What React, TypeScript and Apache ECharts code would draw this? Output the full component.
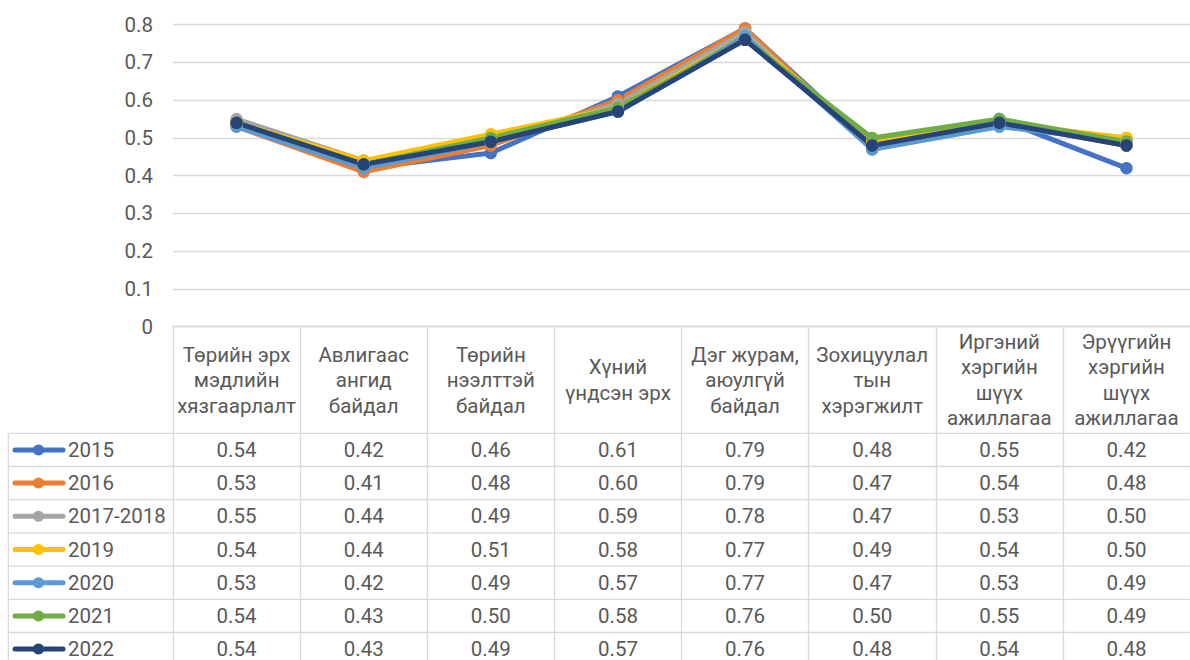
import React, { useEffect, useRef } from "react";
import * as echarts from "echarts";

const categories = [
  "Төрийн эрх\nмэдлийн\nхязгаарлалт",
  "Авлигаас\nангид\nбайдал",
  "Төрийн\nнээлттэй\nбайдал",
  "Хүний\nүндсэн эрх",
  "Дэг журам,\nаюулгүй\nбайдал",
  "Зохицуулал\nтын\nхэрэгжилт",
  "Иргэний\nхэргийн\nшүүх\nажиллагаа",
  "Эрүүгийн\nхэргийн\nшүүх\nажиллагаа",
];

const seriesNames = ["2015", "2016", "2017-2018", "2019", "2020", "2021", "2022"];
const v2015 = [0.54, 0.42, 0.46, 0.61, 0.79, 0.48, 0.55, 0.42];
const v2016 = [0.53, 0.41, 0.48, 0.6, 0.79, 0.47, 0.54, 0.48];
const v2017 = [0.55, 0.44, 0.49, 0.59, 0.78, 0.47, 0.53, 0.5];
const v2019 = [0.54, 0.44, 0.51, 0.58, 0.77, 0.49, 0.54, 0.5];
const v2020 = [0.53, 0.42, 0.49, 0.57, 0.77, 0.47, 0.53, 0.49];
const v2021 = [0.54, 0.43, 0.5, 0.58, 0.76, 0.5, 0.55, 0.49];
const v2022 = [0.54, 0.43, 0.49, 0.57, 0.76, 0.48, 0.54, 0.48];
const seriesValues = [v2015, v2016, v2017, v2019, v2020, v2021, v2022];
const colors = ["#4472C4", "#ED7D31", "#A5A5A5", "#FFC000", "#5B9BD5", "#70AD47", "#264478"];

const FONT = "Roboto";
const TXT = "#595959";
const LINE = "#d9d9d9";
const FS = 20.5;

export default function App() {
  const ref = useRef<HTMLDivElement>(null);
  useEffect(() => {
    if (!ref.current) return;
    const chart = echarts.init(ref.current, undefined, { renderer: "svg" });
    const W = 1190;
    const H = 660;
    const gridTop = 24.7;
    const gridBottomY = 326.7;
    const headerBottom = 433.3;
    const rowH = 33.2;

    chart.setOption({
      animation: false,
      grid: { left: 173, top: gridTop, width: 1030, height: gridBottomY - gridTop },
      xAxis: {
        type: "category",
        data: categories,
        boundaryGap: true,
        axisLine: { show: true, lineStyle: { color: LINE, width: 1.3 } },
        axisTick: { show: true, length: H - gridBottomY, lineStyle: { color: LINE, width: 1.3 } },
        axisLabel: {
          interval: 0,
          fontFamily: FONT,
          fontSize: FS,
          lineHeight: 25.5,
          color: TXT,
          verticalAlign: "middle",
          align: "center",
          margin: (headerBottom - gridBottomY) / 2,
        },
      },
      yAxis: {
        type: "value",
        min: 0,
        max: 0.8,
        interval: 0.1,
        axisLine: { show: false },
        axisTick: { show: false },
        splitLine: { lineStyle: { color: LINE, width: 1.3 } },
        axisLabel: { fontFamily: FONT, fontSize: FS, color: TXT, margin: 20 },
      },
      series: seriesNames.map((name, i) => ({
        type: "line",
        name,
        data: seriesValues[i],
        symbol: "circle",
        symbolSize: 12.5,
        color: colors[i],
        lineStyle: { width: 5, color: colors[i] },
        itemStyle: { color: colors[i] },
      })),
    });

    const graphic: any[] = [];
    const right = W;
    for (let r = 0; r <= seriesNames.length; r++) {
      const y = headerBottom + r * rowH;
      graphic.push({
        type: "line",
        shape: { x1: 8.3, y1: y, x2: right, y2: y },
        style: { stroke: LINE, lineWidth: 1.3 },
        silent: true,
      });
    }
    graphic.push({
      type: "line",
      shape: { x1: 8.3, y1: headerBottom, x2: 8.3, y2: H },
      style: { stroke: LINE, lineWidth: 1.3 },
      silent: true,
    });
    seriesNames.forEach((name, r) => {
      const cy = headerBottom + r * rowH + rowH / 2;
      graphic.push({
        type: "line",
        shape: { x1: 15, y1: cy, x2: 63, y2: cy },
        style: { stroke: colors[r], lineWidth: 5, lineCap: "round" },
        silent: true,
      });
      graphic.push({
        type: "circle",
        shape: { cx: 38.5, cy, r: 5.5 },
        style: { fill: colors[r] },
        silent: true,
      });
      graphic.push({
        type: "text",
        x: 68,
        y: cy,
        style: {
          text: name,
          fontFamily: FONT,
          fontSize: FS,
          fill: TXT,
          textAlign: "left",
          textVerticalAlign: "middle",
        },
        silent: true,
      });
      seriesValues[r].forEach((v, c) => {
        const px = chart.convertToPixel({ seriesIndex: r }, [c, v]) as number[];
        graphic.push({
          type: "text",
          x: px[0],
          y: cy,
          style: {
            text: v.toFixed(2),
            fontFamily: FONT,
            fontSize: FS,
            fill: TXT,
            textAlign: "center",
            textVerticalAlign: "middle",
          },
          silent: true,
        });
      });
    });
    chart.setOption({ graphic });

    return () => chart.dispose();
  }, []);
  return (
    <div
      ref={ref}
      style={{ position: "absolute", left: 0, top: 0, width: 1190, height: 660, background: "#fff" }}
    />
  );
}
